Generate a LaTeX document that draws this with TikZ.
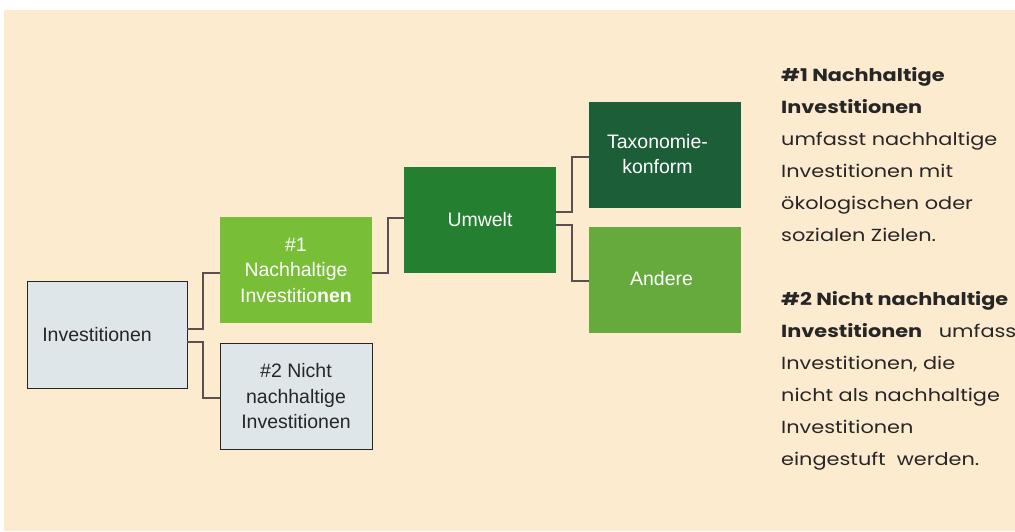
\documentclass[tikz,border=0pt]{standalone}
\usepackage{fontspec}
\setmainfont{Liberation Sans}
\newfontfamily\descfont[FakeStretch=1.19]{Poppins}
\definecolor{bgpeach}{HTML}{FDEBD0}
\definecolor{boxgrey}{HTML}{DFE6EA}
\definecolor{green1}{HTML}{78BE37}
\definecolor{greenU}{HTML}{247F31}
\definecolor{greenT}{HTML}{1C5E38}
\definecolor{greenA}{HTML}{66AA3E}
\definecolor{connc}{HTML}{5A5050}
\definecolor{textdark}{HTML}{262626}
\tikzset{
  basebox/.style={rectangle, inner sep=0pt, outer sep=0pt, minimum width=152pt, minimum height=106pt, align=center, font=\fontsize{19.5}{25.5}\selectfont},
  greybox/.style={basebox, fill=boxgrey, draw=textdark, line width=0.9pt, text=textdark},
  greenbox/.style={basebox, text=white},
  conn/.style={draw=connc, line width=1.3pt},
}
\begin{document}
\begin{tikzpicture}[x=1pt, y=-1pt]
\useasboundingbox (0,0) rectangle (1015,531);
\fill[white] (0,0) rectangle (1015,531);
\fill[bgpeach] (4,10) rectangle (1015,531);

\node[greybox, minimum width=160pt, minimum height=107pt] (inv) at (107,334.5) {};
\node[text=textdark, font=\fontsize{19.5}{25.5}\selectfont, inner sep=0pt] (invt) at (97,334.5) {Investitionen};
\node[greenbox, fill=green1] (n1) at (296,270) {\#1\\Nachhaltige\\Investitio\textbf{nen}};
\node[greybox] (n2) at (296,396.5) {\#2 Nicht\\nachhaltige\\Investitionen};
\node[greenbox, fill=greenU] (umw) at (480,219.5) {Umwelt};
\node[greenbox, fill=greenT, minimum height=106pt] (tax) at (665,155) {};
\node[text=white, align=center, inner sep=0pt, font=\fontsize{19.5}{25.5}\selectfont] (taxt) at (657.5,154) {Taxonomie-\\konform};
\node[greenbox, fill=greenA] (and) at (665,279.5) {};
\node[text=white, inner sep=0pt, font=\fontsize{19.5}{25.5}\selectfont] (andt) at (661.5,279) {Andere};

\draw[conn] ([yshift=5.5pt]inv.east) -- ++(16,0) |- ([yshift=-3pt]n1.west);
\draw[conn] ([yshift=-7.5pt]inv.east) -- ++(16,0) |- ([yshift=-1.5pt]n2.west);
\draw[conn] ([yshift=-3pt]n1.east) -- ++(16,0) |- ([yshift=1.5pt]umw.west);
\draw[conn] ([yshift=7.5pt]umw.east) -- ++(16,0) |- ([yshift=-2pt]tax.west);
\draw[conn] ([yshift=-5.5pt]umw.east) -- ++(16,0) |- ([yshift=-1.5pt]and.west);

\node[anchor=north west, inner sep=0pt, align=left, text=textdark,
  font=\descfont\fontsize{17.5}{32}\selectfont] (desc) at (781,67)
{\textbf{\#1 Nachhaltige}\\
\textbf{Investitionen}\\
umfasst nachhaltige\\
Investitionen mit\\
ökologischen oder\\
sozialen Zielen.\\[32pt]
\textbf{\#2 Nicht nachhaltige}\\
\textbf{Investitionen}~~~umfasst\\
Investitionen, die\\
nicht als nachhaltige\\
Investitionen\\
eingestuft~ werden.};
\end{tikzpicture}
\end{document}
